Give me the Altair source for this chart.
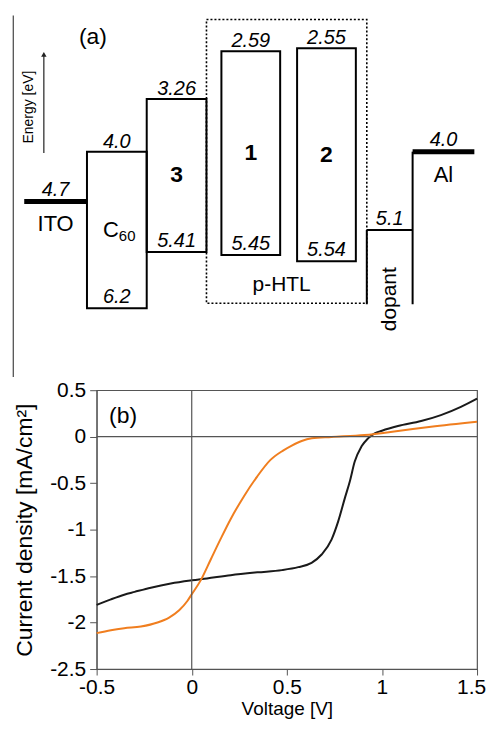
import altair as alt
import pandas as pd

# ---------------- Panel (a): energy levels [eV] ----------------
box_names = ["C60", "3", "1", "2"]
box_lumo = [4.0, 3.26, 2.59, 2.55]
box_homo = [6.2, 5.41, 5.45, 5.54]
electrode_names = ["ITO", "Al"]
electrode_wf = [4.7, 4.0]
dopant_name = "dopant"
dopant_level = 5.1
group_name = "p-HTL"

# ---------------- Panel (b): J-V curves ----------------
black_v = [-0.5, -0.425, -0.355, -0.30, -0.215, -0.11, 0.0, 0.08, 0.205, 0.345,
           0.474, 0.56, 0.63, 0.683, 0.735, 0.77, 0.805, 0.831, 0.857, 0.892,
           0.927, 0.962, 1.0, 1.084, 1.206, 1.31, 1.415, 1.5]
black_j = [-1.81, -1.75, -1.70, -1.67, -1.625, -1.58, -1.546, -1.525, -1.49, -1.46,
           -1.436, -1.404, -1.357, -1.268, -1.107, -0.911, -0.661, -0.482, -0.268, -0.107,
           -0.018, 0.036, 0.064, 0.114, 0.168, 0.232, 0.321, 0.41]
orange_v = [-0.5, -0.425, -0.355, -0.267, -0.18, -0.119, -0.066, -0.023, 0.0, 0.047,
            0.1, 0.152, 0.205, 0.274, 0.344, 0.414, 0.48, 0.526, 0.578, 0.631,
            0.735, 0.909, 1.084, 1.258, 1.5]
orange_j = [-2.114, -2.082, -2.061, -2.043, -2.0, -1.946, -1.868, -1.768, -1.696, -1.546,
            -1.321, -1.10, -0.885, -0.643, -0.429, -0.25, -0.15, -0.096, -0.046, -0.018,
            -0.004, 0.018, 0.061, 0.107, 0.161]
x_ticks = [-0.5, 0, 0.5, 1, 1.5]
y_ticks = [0.5, 0, -0.5, -1, -1.5, -2, -2.5]

# ---------------- schematic layout (horizontal slots, px) ----------------
box_x0 = [86, 146, 221, 297]
box_x1 = [146, 206, 280, 356]
electrode_x0 = [23, 413]
electrode_x1 = [86, 475]
dopant_x0, dopant_x1 = 367, 413
group_x0, group_x1 = 206, 367

FONT = "Liberation Sans"
W, H_TOP, H_BOT = 382, 363, 280
XS = alt.Scale(domain=[95.7, 477.7], nice=False, zero=False)
YS = alt.Scale(domain=[2.088, 7.163], nice=False, zero=False, reverse=True)

def X(f):
    return alt.X(f, scale=XS, axis=None)

def Y(f):
    return alt.Y(f, scale=YS, axis=None)

boxes_df = pd.DataFrame({
    "name": box_names, "lumo": box_lumo, "homo": box_homo,
    "x0": box_x0, "x1": box_x1,
})
boxes_df["xc"] = (boxes_df["x0"] + boxes_df["x1"]) / 2
boxes_df["mid"] = (boxes_df["lumo"] + boxes_df["homo"]) / 2
boxes_df["lumo_txt"] = [str(v) for v in box_lumo]
boxes_df["homo_txt"] = [str(v) for v in box_homo]
boxes_df["name_dy"] = [0, 10, -2, -4]

el_df = pd.DataFrame({"name": electrode_names, "wf": electrode_wf,
                      "x0": electrode_x0, "x1": electrode_x1})
el_df["xc"] = (el_df["x0"] + el_df["x1"]) / 2
el_df["wf_txt"] = [str(v) for v in electrode_wf]

dop_h = pd.DataFrame({"x0": [dopant_x0], "x1": [dopant_x1], "lvl": [dopant_level],
                      "xc": [(dopant_x0 + dopant_x1) / 2], "txt": [str(dopant_level)],
                      "name": [dopant_name]})
dop_v = pd.DataFrame({"x": [dopant_x0, dopant_x1], "top": [dopant_level, electrode_wf[1]]})

grp_df = pd.DataFrame({"x0": [group_x0], "x1": [group_x1],
                       "xc": [(group_x0 + group_x1) / 2 - 5], "name": [group_name]})

misc_df = pd.DataFrame({"x": [12]})
arrow_df = pd.DataFrame({"x": [42.7]})
etext_df = pd.DataFrame({"x": [27.5], "t": ["Energy [eV]"]})
alabel_df = pd.DataFrame({"x": [92], "t": ["(a)"]})

layers_a = [
    alt.Chart(misc_df).mark_rule(color="#444", strokeWidth=1.2).encode(
        x=X("x:Q"), y=alt.value(0), y2=alt.value(H_TOP)),
    alt.Chart(grp_df).mark_rect(fill="transparent", stroke="black", strokeWidth=1.6,
                                strokeDash=[2, 2]).encode(
        x=X("x0:Q"), x2="x1:Q", y=alt.value(4), y2=alt.value(289)),
    alt.Chart(boxes_df).mark_rect(fill="transparent", stroke="black", strokeWidth=2).encode(
        x=X("x0:Q"), x2="x1:Q", y=Y("lumo:Q"), y2="homo:Q"),
    alt.Chart(el_df).mark_rule(color="black", strokeWidth=5).encode(
        x=X("x0:Q"), x2="x1:Q", y=Y("wf:Q")),
    alt.Chart(dop_h).mark_rule(color="black", strokeWidth=2).encode(
        x=X("x0:Q"), x2="x1:Q", y=Y("lvl:Q")),
    alt.Chart(dop_v).mark_rule(color="black", strokeWidth=2).encode(
        x=X("x:Q"), y=Y("top:Q"), y2=alt.value(290)),
    # labels
    alt.Chart(boxes_df).mark_text(fontStyle="italic", fontSize=20, dy=-4,
                                  baseline="alphabetic").encode(
        x=X("xc:Q"), y=Y("lumo:Q"), text="lumo_txt:N"),
    alt.Chart(boxes_df).mark_text(fontStyle="italic", fontSize=20, dy=-5,
                                  baseline="alphabetic").encode(
        x=X("xc:Q"), y=Y("homo:Q"), text="homo_txt:N"),
    alt.Chart(boxes_df).transform_filter("datum.name != 'C60'").mark_text(
        fontWeight="bold", fontSize=23, baseline="middle").encode(
        x=X("xc:Q"), y=Y("mid:Q"), yOffset=alt.YOffset("name_dy:Q", scale=None),
        text="name:N"),
    alt.Chart(boxes_df).transform_filter("datum.name == 'C60'").mark_text(
        fontSize=22, baseline="middle", align="right", dx=2).encode(
        x=X("xc:Q"), y=Y("mid:Q"), text=alt.value("C")),
    alt.Chart(boxes_df).transform_filter("datum.name == 'C60'").mark_text(
        fontSize=15, baseline="middle", align="left", dx=2, dy=6).encode(
        x=X("xc:Q"), y=Y("mid:Q"), text=alt.value("60")),
    alt.Chart(el_df).mark_text(fontStyle="italic", fontSize=20, dy=-6,
                               baseline="alphabetic").encode(
        x=X("xc:Q"), y=Y("wf:Q"), text="wf_txt:N"),
    alt.Chart(el_df).mark_text(fontSize=22, dy=23, baseline="middle").encode(
        x=X("xc:Q"), y=Y("wf:Q"), text="name:N"),
    alt.Chart(dop_h).mark_text(fontStyle="italic", fontSize=20, dy=-5,
                               baseline="alphabetic").encode(
        x=X("xc:Q"), y=Y("lvl:Q"), text="txt:N"),
    alt.Chart(dop_h).mark_text(fontSize=21, angle=270, baseline="middle").encode(
        x=X("xc:Q"), y=alt.value(285), text="name:N"),
    alt.Chart(grp_df).mark_text(fontSize=21, baseline="middle").encode(
        x=X("xc:Q"), y=alt.value(271), text="name:N"),
    alt.Chart(arrow_df).mark_rule(color="#222", strokeWidth=1.2).encode(
        x=X("x:Q"), y=alt.value(138), y2=alt.value(40)),
    alt.Chart(arrow_df).mark_point(shape="triangle-up", filled=True, color="#222",
                                   size=30, opacity=1).encode(
        x=X("x:Q"), y=alt.value(39)),
    alt.Chart(etext_df).mark_text(fontSize=14, angle=270, baseline="middle").encode(
        x=X("x:Q"), y=alt.value(92), text="t:N"),
    alt.Chart(alabel_df).mark_text(fontSize=23, baseline="middle").encode(
        x=X("x:Q"), y=alt.value(22), text="t:N"),
]
top = alt.layer(*layers_a).properties(
    width=W, height=H_TOP, view=alt.ViewBackground(stroke="transparent"))

# ---------------- Panel (b) ----------------
jv_df = pd.concat([
    pd.DataFrame({"V": black_v, "J": black_j, "series": "black"}),
    pd.DataFrame({"V": orange_v, "J": orange_j, "series": "orange"}),
])
XB = alt.Scale(domain=[-0.5, 1.5], nice=False, zero=False)
YB = alt.Scale(domain=[-2.5, 0.5], nice=False, zero=False)

x_axis = alt.Axis(values=x_ticks, labelExpr="toString(datum.value)", title="Voltage [V]",
                  titleFontSize=19, titleFontWeight="normal", labelFontSize=21,
                  tickSize=6, tickColor="#555", domainColor="#555", labelPadding=2,
                  titlePadding=2, grid=False, labelColor="black", titleColor="black",
                  labelFlush=False, labelOverlap=False,
                  labelOffset={"condition": {"test": "datum.value == 1.5", "value": -6},
                               "value": 0})
y_axis = alt.Axis(values=y_ticks, labelExpr="toString(datum.value)",
                  title="Current density [mA/cm²]",
                  titleFontSize=23, titleFontWeight="normal", labelFontSize=21,
                  tickSize=7, tickColor="#555", domainColor="#555", labelPadding=4,
                  titlePadding=13, grid=False, labelColor="black", titleColor="black",
                  labelFlush=False, labelOverlap=False)

curves = alt.Chart(jv_df).mark_line(strokeWidth=2, interpolate="monotone").encode(
    x=alt.X("V:Q", scale=XB, axis=x_axis),
    y=alt.Y("J:Q", scale=YB, axis=y_axis),
    color=alt.Color("series:N", scale=alt.Scale(domain=["black", "orange"],
                                                range=["#1a1a1a", "#f07e1f"]),
                    legend=None),
)
vline = alt.Chart(pd.DataFrame({"V": [0]})).mark_rule(color="#555", strokeWidth=1.2).encode(
    x=alt.X("V:Q", scale=XB))
hline = alt.Chart(pd.DataFrame({"J": [0]})).mark_rule(color="#555", strokeWidth=1.2).encode(
    y=alt.Y("J:Q", scale=YB))
blabel = alt.Chart(pd.DataFrame({"t": ["(b)"]})).mark_text(
    fontSize=23, baseline="middle").encode(
    x=alt.value(26.5), y=alt.value(25.5), text="t:N")

bottom = alt.layer(curves, vline, hline, blabel).properties(width=W, height=H_BOT)

chart = alt.vconcat(top, bottom, spacing=13.3, bounds="flush",
                    padding={"left": 4, "top": 4, "right": 0, "bottom": 0}).configure(
    font=FONT).configure_view(stroke="#555", strokeWidth=1.2)

chart.save("out.html", embed_options={"renderer": "svg", "actions": False})
